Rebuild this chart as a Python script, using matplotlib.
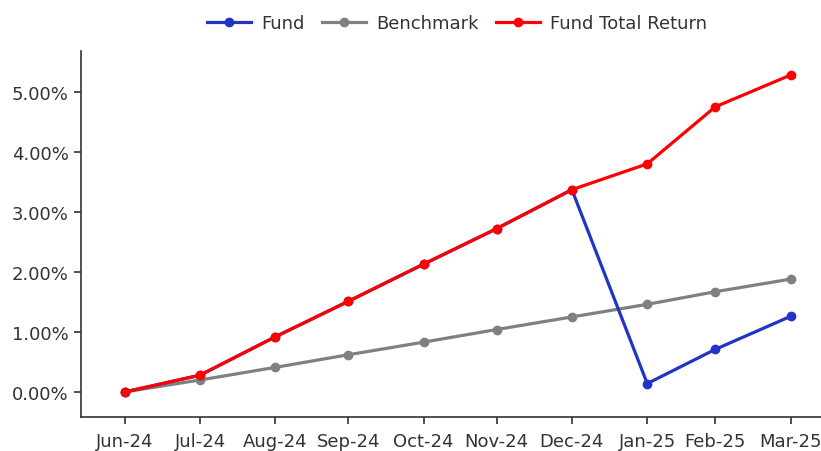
import matplotlib
matplotlib.use("Agg")
import matplotlib.pyplot as plt
import matplotlib.dates as mdates
from matplotlib.ticker import FuncFormatter, MultipleLocator
import pandas as pd

plt.rcParams["font.family"] = ["DejaVu Sans"]

dates = ["2024-06-30", "2024-07-31", "2024-08-31", "2024-09-30", "2024-10-31",
         "2024-11-30", "2024-12-31", "2025-01-31", "2025-02-28", "2025-03-31"]
fund = [0.00, 0.28, 0.92, 1.51, 2.13, 2.72, 3.37, 0.14, 0.71, 1.26]
benchmark = [0.00, 0.20, 0.41, 0.62, 0.83, 1.04, 1.25, 1.46, 1.67, 1.88]
fund_total_return = [0.00, 0.28, 0.92, 1.51, 2.13, 2.72, 3.37, 3.80, 4.75, 5.28]

x = pd.to_datetime(dates)

fig = plt.figure(figsize=(8.21, 4.52), dpi=100)
ax = fig.add_axes([81/821, (452-418)/452, (821-81)/821, (418-52)/452])

text_color = "#333333"
ax.plot(x, fund, color="#2233c8", marker="o", lw=2.3, ms=6, label="Fund", zorder=3)
ax.plot(x, benchmark, color="#808080", marker="o", lw=2.3, ms=6, label="Benchmark", zorder=2)
ax.plot(x, fund_total_return, color="#ff0000", marker="o", lw=2.3, ms=6, label="Fund Total Return", zorder=4)

ax.set_ylim(-0.417, 5.68)
ax.set_xlim(x[0] - pd.Timedelta(days=18), x[-1] + pd.Timedelta(days=12.5))
ax.yaxis.set_major_locator(MultipleLocator(1.0))
ax.yaxis.set_major_formatter(FuncFormatter(lambda v, p: f"{v:.2f}%"))
ax.set_xticks(x)
ax.xaxis.set_major_formatter(mdates.DateFormatter("%b-%y"))

for s in ["top", "right"]:
    ax.spines[s].set_visible(False)
for s in ["left", "bottom"]:
    ax.spines[s].set_color(text_color)
    ax.spines[s].set_linewidth(1.2)
ax.tick_params(axis="both", colors=text_color, labelsize=13, length=5, width=1.2, direction="out")
ax.tick_params(axis="x", pad=6)
ax.tick_params(axis="y", pad=4)

leg = fig.legend(loc="upper center", bbox_to_anchor=(0.5566, 1.002), ncol=3, frameon=False,
                 fontsize=13, handlelength=2.45, columnspacing=0.95, handletextpad=0.55)
for t in leg.get_texts():
    t.set_color(text_color)

fig.savefig("out.png", dpi=100)
